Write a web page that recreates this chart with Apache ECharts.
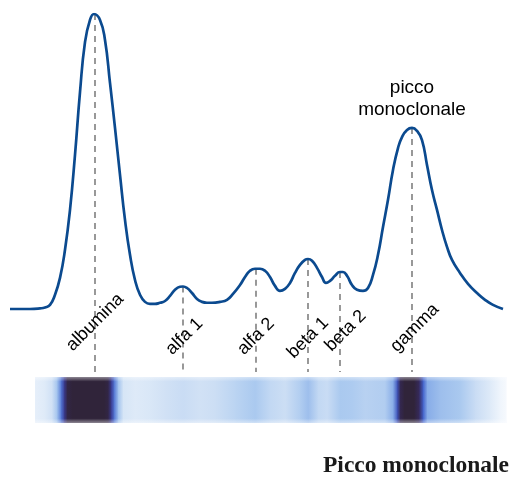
<!DOCTYPE html>
<html>
<head>
<meta charset="utf-8">
<script src="https://cdn.jsdelivr.net/npm/echarts@6/dist/echarts.min.js"></script>
<style>
html,body{margin:0;padding:0;background:#fff;}
#chart{width:518px;height:481px;}
</style>
</head>
<body>
<div id="chart"></div>
<script>
// ---- Data (electrophoretic mobility vs. optical density, arbitrary units) ----
var mobility = [10,20,30,40,45,50,55,60,65,70,75,80,85,90,94,100,105,110,115,120,125,130,135,140,145,150,155,160,165,170,175,180,183,187,192,197,202,207,212,220,227,233,240,245,250,255,260,265,270,275,280,285,290,295,300,305,308,312,317,322,326,330,335,340,343,347,352,357,363,368,373,378,383,388,393,398,402,407,412,417,422,427,432,437,442,447,452,460,468,477,485,493,503];
var density  = [0.3,0.3,0.3,0.5,0.8,1.7,5.1,10.8,20.3,33.8,52.4,73.6,90.5,98.0,100,98.0,91.2,76.7,61.5,45.6,30.4,18.6,10.1,5.1,2.7,2.0,2.0,2.4,3.0,4.7,6.8,7.8,7.9,7.4,5.7,3.7,2.7,2.4,2.4,2.7,3.4,5.4,8.4,11.1,13.2,13.9,13.9,13.2,11.1,8.1,6.4,7.1,9.1,12.5,15.2,16.9,17.2,16.6,14.2,11.1,9.1,9.8,11.5,12.8,12.8,11.5,8.4,6.8,6.4,7.4,11.8,18.6,28.0,37.2,47.3,54.7,58.4,60.8,61.5,60.5,57.4,49.0,40.5,33.8,27.0,21.3,16.9,12.5,8.8,5.7,3.4,1.7,0.3];

var fractionNames = ['albumina','alfa 1','alfa 2','beta 1','beta 2','gamma'];
var fractionPeaks = [95,183,256,308,340,412];
var fractionPeakDensity = [100,7.9,13.9,17.2,12.8,61.5];

var gelPos       = [35,45,52,57,61,64,67,72,88,104,108,111,114,118,123,135,150,165,183,200,215,235,255,270,285,300,308,318,327,340,352,365,385,393,397,400,404,414,419,423,427,440,460,475,490,500,506];
var gelIntensity = [0.08,0.11,0.17,0.3,0.5,0.72,0.95,1.0,1.0,1.0,0.95,0.72,0.5,0.3,0.14,0.11,0.13,0.16,0.19,0.16,0.18,0.23,0.28,0.21,0.18,0.26,0.31,0.21,0.19,0.28,0.27,0.24,0.26,0.36,0.6,0.9,1.0,1.0,0.85,0.55,0.36,0.31,0.28,0.19,0.11,0.05,0.03];

var annotationText = 'picco\nmonoclonale';
var titleText = 'Picco monoclonale';

// ---- Styles ----
var Y_MIN = -21, Y_MAX = 100, LABEL_Y = -8.5;
var labelNudge = [[9,-9],[0,2],[-1,1],[-2,2],[7,1],[7,-3]];
var rampStops = [
  [0.00,[255,255,255]],
  [0.08,[230,239,250]],
  [0.18,[204,222,244]],
  [0.28,[170,201,239]],
  [0.40,[118,158,228]],
  [0.55,[66,98,204]],
  [0.70,[58,60,152]],
  [0.85,[54,42,94]],
  [1.00,[48,36,58]]
];
function ramp(v){
  for (var i=1;i<rampStops.length;i++){
    if (v<=rampStops[i][0]){
      var a=rampStops[i-1], b=rampStops[i];
      var t=(v-a[0])/(b[0]-a[0]);
      var c=a[1].map(function(ch,k){return Math.round(ch+(b[1][k]-ch)*t);});
      return 'rgb('+c.join(',')+')';
    }
  }
  return 'rgb(48,36,58)';
}

var curveData = mobility.map(function(x,i){return [x, density[i]];});
var gelData = [];
for (var i=0;i<gelPos.length-1;i++){
  gelData.push([gelPos[i], gelPos[i+1], gelIntensity[i], gelIntensity[i+1]]);
}

var series = [];
fractionPeaks.forEach(function(x,i){
  series.push({
    type:'line', xAxisIndex:0, yAxisIndex:0, silent:true, z:1,
    symbol:'none',
    data:[[x, fractionPeakDensity[i]], [x, Y_MIN]],
    lineStyle:{color:'#7f7f7f', width:1.6, type:[6,5]}
  });
});
series.push({
  type:'line', xAxisIndex:0, yAxisIndex:0, z:3, smooth:0.5,
  symbol:'none', data:curveData,
  lineStyle:{color:'#0b4a8f', width:2.7}
});
series.push({
  type:'scatter', xAxisIndex:0, yAxisIndex:0, z:4, symbolSize:0, silent:true,
  itemStyle:{opacity:1},
  data: fractionPeaks.map(function(x,i){
    return {value:[x, LABEL_Y], name:fractionNames[i],
      label:{offset:labelNudge[i]}};
  }),
  label:{show:true, position:'inside', formatter:'{b}', rotate:45,
    align:'center', verticalAlign:'middle', opacity:1,
    fontFamily:'Liberation Sans, Arial, sans-serif', fontSize:18, color:'#000'}
});
series.push({
  type:'scatter', xAxisIndex:0, yAxisIndex:0, z:4, symbolSize:0, silent:true,
  itemStyle:{opacity:1},
  data:[[fractionPeaks[5], fractionPeakDensity[5]]],
  label:{show:true, position:'top', distance:7, formatter:annotationText,
    align:'center', lineHeight:22, opacity:1,
    fontFamily:'Liberation Sans, Arial, sans-serif', fontSize:19, color:'#000'}
});
series.push({
  type:'custom', xAxisIndex:1, yAxisIndex:1, silent:true,
  data:gelData,
  renderItem:function(params, api){
    var p0 = api.coord([api.value(0), 1]);
    var p1 = api.coord([api.value(1), 0]);
    return {
      type:'rect',
      shape:{x:p0[0], y:p0[1], width:p1[0]-p0[0]+0.6, height:p1[1]-p0[1]},
      style:{fill:new echarts.graphic.LinearGradient(0,0,1,0,[
        {offset:0,color:ramp(api.value(2))},
        {offset:1,color:ramp(api.value(3))}])}
    };
  }
});
series.push({
  type:'custom', xAxisIndex:1, yAxisIndex:1, silent:true, z:5,
  data:[[gelPos[0], gelPos[gelPos.length-1]]],
  renderItem:function(params, api){
    var p0 = api.coord([api.value(0), 1]);
    var p1 = api.coord([api.value(1), 0]);
    return {
      type:'rect',
      shape:{x:p0[0], y:p0[1], width:p1[0]-p0[0], height:p1[1]-p0[1]},
      style:{fill:new echarts.graphic.LinearGradient(0,0,0,1,[
        {offset:0,color:'rgba(255,255,255,0.45)'},
        {offset:0.1,color:'rgba(255,255,255,0)'},
        {offset:0.9,color:'rgba(255,255,255,0)'},
        {offset:1,color:'rgba(255,255,255,0.45)'}])}
    };
  }
});

var chart = echarts.init(document.getElementById('chart'), null, {renderer:'canvas'});
chart.setOption({
  animation:false,
  backgroundColor:'#ffffff',
  title:{text:titleText, right:9, top:454, padding:0,
    textStyle:{fontFamily:'Liberation Serif, Times New Roman, serif', fontWeight:'bold', fontSize:23.5, color:'#1a1a1a'}},
  grid:[
    {left:0, right:0, top:14, bottom:109},
    {left:0, right:0, top:377, height:46}
  ],
  xAxis:[
    {type:'value', gridIndex:0, min:0, max:518, show:false},
    {type:'value', gridIndex:1, min:0, max:518, show:false}
  ],
  yAxis:[
    {type:'value', gridIndex:0, min:Y_MIN, max:Y_MAX, show:false},
    {type:'value', gridIndex:1, min:0, max:1, show:false}
  ],
  series:series
});
</script>
</body>
</html>
